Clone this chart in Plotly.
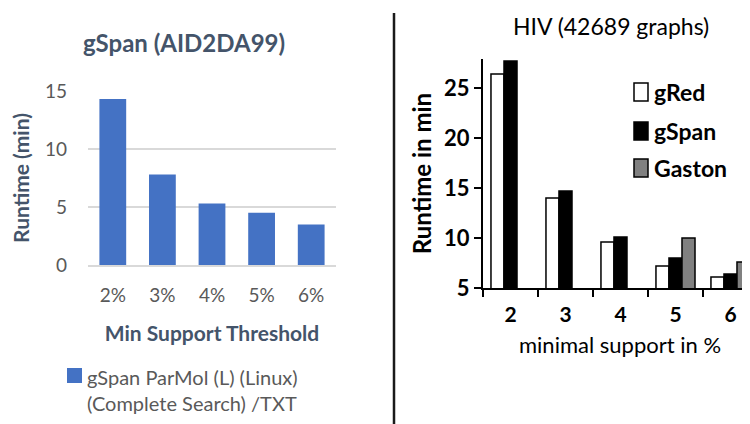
import plotly.graph_objects as go

# Left chart data
left_categories = ["2%", "3%", "4%", "5%", "6%"]
left_runtime = [14.3, 7.8, 5.3, 4.5, 3.5]
left_series_name = "gSpan ParMol (L) (Linux)<br>(Complete Search) /TXT"

# Right chart data
right_categories = ["2", "3", "4", "5", "6"]
gred_runtime = [26.4, 14.0, 9.6, 7.2, 6.1]
gspan_runtime = [27.7, 14.7, 10.1, 8.0, 6.4]
gaston_runtime = [None, None, None, 10.0, 7.6]

W, H = 750, 424
OFF = 8  # page body margin


def px_x(p):
    return (p - OFF) / W


def px_y(p):
    return 1 - (p - OFF) / H


FONT = "Lato"
TITLE_C = "#44546A"
TICK_C = "#595959"

fig = go.Figure()

fig.add_trace(go.Bar(
    x=left_categories, y=left_runtime, name=left_series_name,
    marker=dict(color="#4472C4", line=dict(width=0)),
    width=0.54, xaxis="x", yaxis="y", showlegend=False,
))

fig.add_trace(go.Bar(
    x=right_categories, y=gred_runtime, name="gRed",
    marker=dict(color="white", line=dict(color="black", width=1.5)),
    xaxis="x2", yaxis="y2", showlegend=False,
))
fig.add_trace(go.Bar(
    x=right_categories, y=gspan_runtime, name="gSpan",
    marker=dict(color="black", line=dict(color="black", width=1.5)),
    xaxis="x2", yaxis="y2", showlegend=False,
))
fig.add_trace(go.Bar(
    x=right_categories, y=gaston_runtime, name="Gaston",
    marker=dict(color="#808080", line=dict(color="black", width=1.5)),
    xaxis="x2", yaxis="y2", showlegend=False,
))

fig.update_layout(
    width=W, height=H,
    margin=dict(l=0, r=0, t=0, b=0, autoexpand=False),
    paper_bgcolor="white", plot_bgcolor="white",
    barmode="group", bargap=0.29, bargroupgap=0,
    font=dict(family=FONT),
    xaxis=dict(
        domain=[px_x(88), px_x(336)], anchor="y", automargin=False,
        type="category", range=[-0.5, 4.5],
        showline=True, linecolor="#d9d9d9", linewidth=1.5,
        ticks="", showgrid=False, ticklabelstandoff=12,
        tickfont=dict(size=19, color=TICK_C, family=FONT),
        title=dict(text="<b>Min Support Threshold</b>",
                   font=dict(size=21, color=TITLE_C, family=FONT), standoff=22),
    ),
    yaxis=dict(
        domain=[px_y(265), px_y(91)], anchor="x", automargin=False,
        range=[0, 15], tickvals=[0, 5, 10, 15],
        showline=False, showgrid=True, gridcolor="#d9d9d9", gridwidth=1.5,
        zeroline=False, ticks="", ticklabelstandoff=20,
        tickfont=dict(size=19, color=TICK_C, family=FONT),
        title=dict(text="<b>Runtime (min)</b>",
                   font=dict(size=21, color=TITLE_C, family=FONT), standoff=10),
    ),
    xaxis2=dict(
        domain=[px_x(483), px_x(750)], anchor="y2", automargin=False,
        type="category", range=[-0.5, 4.355],
        showline=True, linecolor="black", linewidth=2,
        ticks="outside", tickson="boundaries", ticklen=7, tickwidth=2, tickcolor="black",
        showgrid=False, ticklabelstandoff=7,
        tickfont=dict(size=21, color="black", family=FONT, weight="bold"),
    ),
    yaxis2=dict(
        domain=[px_y(288), px_y(59)], anchor="x2", automargin=False,
        range=[5, 27.9], tickvals=[5, 10, 15, 20, 25],
        showline=True, linecolor="black", linewidth=2,
        ticks="outside", ticklen=7, tickwidth=2, tickcolor="black",
        showgrid=False, zeroline=False,
        tickfont=dict(size=22, color="black", family=FONT, weight="bold"),
        title=dict(text="<b>Runtime in min</b>",
                   font=dict(size=24, color="black", family=FONT), standoff=6),
    ),
)

# Titles
fig.add_annotation(text="<b>gSpan (AID2DA99)</b>", x=px_x(184), y=px_y(43),
                   xref="paper", yref="paper", showarrow=False,
                   xanchor="center", yanchor="middle",
                   font=dict(size=24, color=TITLE_C, family=FONT))
fig.add_annotation(text="HIV (42689 graphs)", x=px_x(611), y=px_y(26),
                   xref="paper", yref="paper", showarrow=False,
                   xanchor="center", yanchor="middle",
                   font=dict(size=23, color="black", family=FONT))
# Right x-axis title
fig.add_annotation(text="minimal support in %", x=px_x(620), y=px_y(344),
                   xref="paper", yref="paper", showarrow=False,
                   xanchor="center", yanchor="middle",
                   font=dict(size=22, color="black", family=FONT))

# Left legend (Excel-style, below chart)
fig.add_shape(type="rect", xref="paper", yref="paper",
              x0=px_x(67), x1=px_x(82), y0=px_y(383), y1=px_y(368),
              fillcolor="#4472C4", line=dict(width=0))
fig.add_annotation(text=left_series_name, x=px_x(85), y=px_y(390),
                   xref="paper", yref="paper", showarrow=False,
                   xanchor="left", yanchor="middle", align="left",
                   font=dict(size=20, color=TICK_C, family=FONT))

# Right legend
legend_items = [("gRed", "white", 92), ("gSpan", "black", 131), ("Gaston", "#808080", 168)]
for name, col, yc in legend_items:
    fig.add_shape(type="rect", xref="paper", yref="paper",
                  x0=px_x(634), x1=px_x(648), y0=px_y(yc + 9), y1=px_y(yc - 9),
                  fillcolor=col, line=dict(color="black", width=1.5))
    fig.add_annotation(text=f"<b>{name}</b>", x=px_x(652), y=px_y(yc),
                       xref="paper", yref="paper", showarrow=False,
                       xanchor="left", yanchor="middle",
                       font=dict(size=23, color="black", family=FONT))

# Divider line
fig.add_shape(type="line", xref="paper", yref="paper",
              x0=px_x(394), x1=px_x(394), y0=px_y(432), y1=px_y(13),
              line=dict(color="#1a1a1a", width=2.5))

fig.write_html("out.html")
